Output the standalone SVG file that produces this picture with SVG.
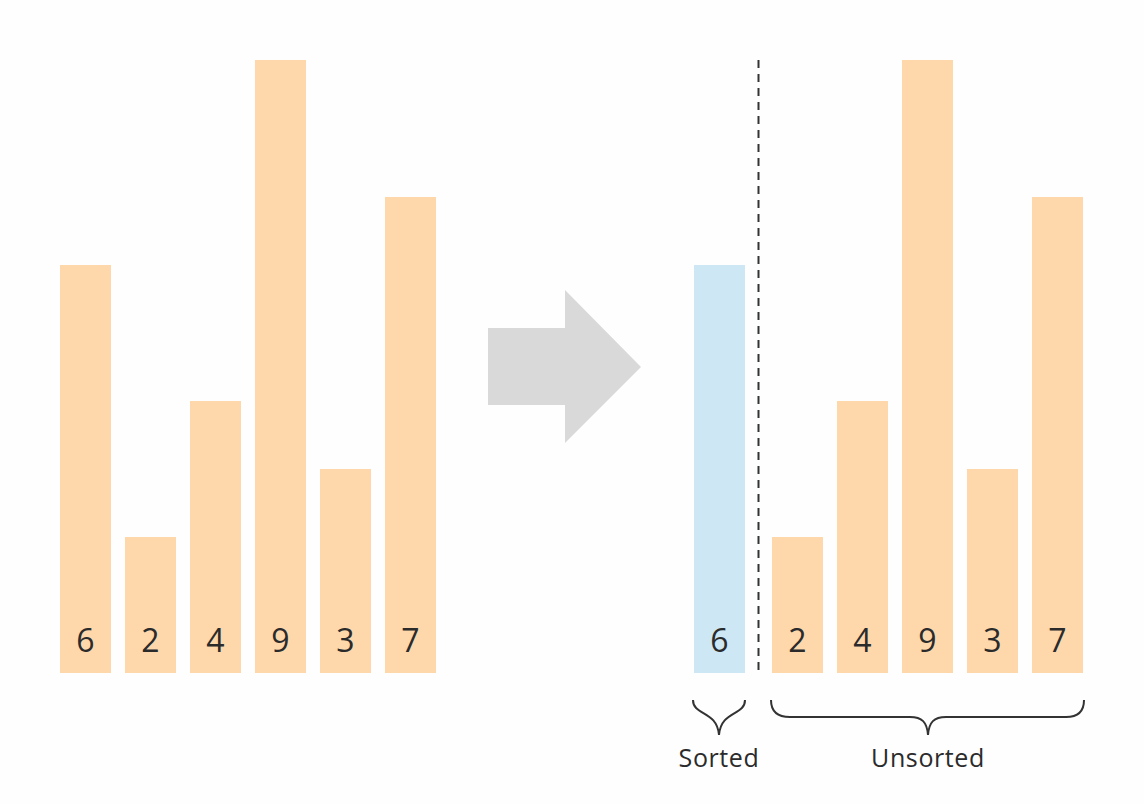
<svg xmlns="http://www.w3.org/2000/svg" width="1144" height="804" viewBox="0 0 1144 804">
<style>
.bar{fill:#fed8ab}
.sorted{fill:#cde7f4}
.num{font-family:"Open Sans","Liberation Sans",sans-serif;font-size:32px;fill:#2b2b2b;text-anchor:middle}
.lbl{font-family:"Open Sans","Liberation Sans",sans-serif;font-size:25px;letter-spacing:0.6px;fill:#2b2b2b;text-anchor:middle}
.brace{fill:none;stroke:#333;stroke-width:2}
</style>
<rect width="1144" height="804" fill="#fefefe"/>
<g id="left-bars">
<g id="l6"><rect class="bar" x="60" y="265" width="51" height="408"/><text class="num" x="85.5" y="652">6</text></g>
<g id="l2"><rect class="bar" x="125" y="537" width="51" height="136"/><text class="num" x="150.5" y="652">2</text></g>
<g id="l4"><rect class="bar" x="190" y="401" width="51" height="272"/><text class="num" x="215.5" y="652">4</text></g>
<g id="l9"><rect class="bar" x="255" y="60" width="51" height="613"/><text class="num" x="280.5" y="652">9</text></g>
<g id="l3"><rect class="bar" x="320" y="469" width="51" height="204"/><text class="num" x="345.5" y="652">3</text></g>
<g id="l7"><rect class="bar" x="385" y="197" width="51" height="476"/><text class="num" x="410.5" y="652">7</text></g>
</g>
<g id="arrow">
<polygon points="488,328 565,328 565,290 641,367 565,443 565,405 488,405" fill="#d9d9d9"/>
</g>
<g id="right-bars">
<g id="r6"><rect class="sorted" x="694" y="265" width="51" height="408"/><text class="num" x="719.5" y="652">6</text></g>
<g id="r2"><rect class="bar" x="772" y="537" width="51" height="136"/><text class="num" x="797.5" y="652">2</text></g>
<g id="r4"><rect class="bar" x="837" y="401" width="51" height="272"/><text class="num" x="862.5" y="652">4</text></g>
<g id="r9"><rect class="bar" x="902" y="60" width="51" height="613"/><text class="num" x="927.5" y="652">9</text></g>
<g id="r3"><rect class="bar" x="967" y="469" width="51" height="204"/><text class="num" x="992.5" y="652">3</text></g>
<g id="r7"><rect class="bar" x="1032" y="197" width="51" height="476"/><text class="num" x="1057.5" y="652">7</text></g>
</g>
<g id="divider">
<line x1="758.5" y1="60" x2="758.5" y2="673" stroke="#333" stroke-width="2" stroke-dasharray="8 6"/>
</g>
<g id="sorted-brace">
<path class="brace" d="M693,700 C693,716 717,710 719,735 C721,710 745,716 745,700"/>
<text class="lbl" x="719" y="767">Sorted</text>
</g>
<g id="unsorted-brace">
<path class="brace" d="M771,700 C771,712 778,717 790,717 L910,717 C922,717 927,722 928,735 C929,722 934,717 946,717 L1066,717 C1078,717 1084,712 1084,700"/>
<text class="lbl" x="928" y="767">Unsorted</text>
</g>
</svg>
